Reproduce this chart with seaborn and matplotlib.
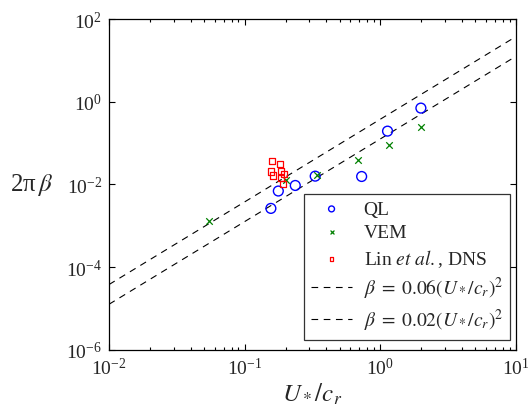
import numpy as np
import matplotlib
matplotlib.use("Agg")
import matplotlib.pyplot as plt
import seaborn as sns

# Quasi-linear (QL) results
ql_x = [0.156, 0.177, 0.236, 0.331, 0.728, 1.13, 1.99]
ql_y = [0.00262, 0.0069, 0.0094, 0.0158, 0.0155, 0.194, 0.70]

# Viscous eddy model (VEM) results
vem_x = [0.0548, 0.203, 0.339, 0.684, 1.16, 1.99]
vem_y = [0.00127, 0.0131, 0.0164, 0.039, 0.092, 0.25]

# Lin et al. direct numerical simulations
dns_x = [0.158, 0.182, 0.156, 0.162, 0.184, 0.195, 0.184, 0.192]
dns_y = [0.0366, 0.0309, 0.0205, 0.0164, 0.0209, 0.0180, 0.0144, 0.0102]

# Power-law fits beta = c (U*/c_r)^2, plotted as 2*pi*beta
fit_coeffs = [0.06, 0.02]
fit_x = [1e-2, 1e1]

sns.set_style("ticks")
plt.rcParams["font.family"] = ["Liberation Serif", "DejaVu Serif"]
plt.rcParams["mathtext.fontset"] = "stix"
plt.rcParams["xtick.direction"] = "in"
plt.rcParams["ytick.direction"] = "in"

fig = plt.figure(figsize=(5.3, 4.06), dpi=100)
ax = fig.add_axes([0.2057, 0.1362, 0.7679, 0.8145])

sns.scatterplot(x=ql_x, y=ql_y, ax=ax, marker="o", s=50,
                facecolors="none", edgecolor=(0, 0, 1), linewidth=1.0,
                label="QL", zorder=3)
sns.scatterplot(x=vem_x, y=vem_y, ax=ax, marker="x", s=22,
                color=(0, 0.5, 0), linewidth=0.9, label="VEM", zorder=3)
sns.scatterplot(x=dns_x, y=dns_y, ax=ax, marker="s", s=20,
                facecolors="none", edgecolor=(1, 0, 0), linewidth=0.9,
                label=r"Lin $\it{et\ al.}$, DNS", zorder=3)

fx = np.array(fit_x)
for c in fit_coeffs:
    sns.lineplot(x=fx, y=2 * np.pi * c * fx ** 2, ax=ax, color="black",
                 linewidth=0.8, linestyle=(0, (6, 5)),
                 label=rf"$\beta\;=\;{c:.2f}(U_*/c_r)^2$", zorder=2)

ax.set_xscale("log")
ax.set_yscale("log")
ax.set_xlim(1e-2, 1e1)
ax.set_ylim(1e-6, 1e2)
ax.set_yticks([1e-6, 1e-4, 1e-2, 1e0, 1e2])
ax.yaxis.set_minor_locator(matplotlib.ticker.NullLocator())
ax.tick_params(which="both", top=True, right=True, labelsize=14,
               width=0.8, color="black")
ax.tick_params(which="major", length=4, pad=5)
ax.tick_params(which="minor", length=2.5)
for sp in ax.spines.values():
    sp.set_linewidth(0.9)
    sp.set_color("black")

ax.set_xlabel(r"$U_*/c_r$", fontsize=18, labelpad=2)
ax.set_ylabel("2π$\\,\\beta$", fontsize=18, rotation=0)
ax.yaxis.set_label_coords(-0.19, 0.5)
ax.yaxis.label.set_verticalalignment("center")

leg = ax.legend(loc="lower right", bbox_to_anchor=(0.985, 0.03),
                fontsize=14, frameon=True, fancybox=False,
                markerscale=0.6, handlelength=2.1, labelspacing=0.3,
                borderpad=0.35, handletextpad=0.6, borderaxespad=0)
leg.get_frame().set_edgecolor("black")
leg.get_frame().set_linewidth(0.9)

fig.savefig("out.png", dpi=100)
